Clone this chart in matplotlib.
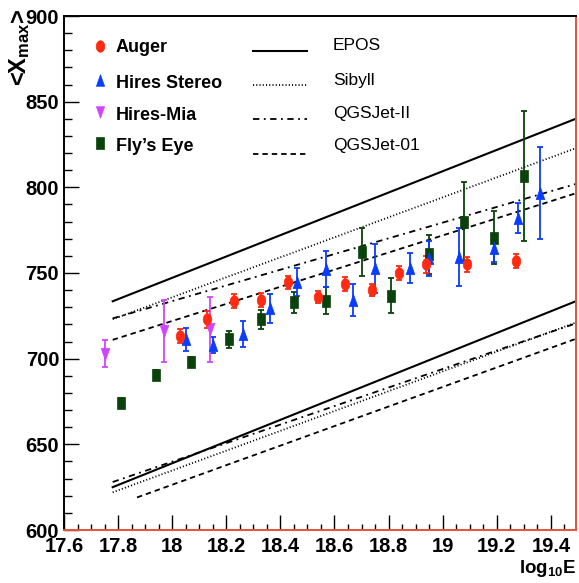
import matplotlib
matplotlib.use("Agg")
import matplotlib.pyplot as plt
from matplotlib.ticker import MultipleLocator
import numpy as np

# ---------------- data ----------------
auger_x = [18.03, 18.13, 18.23, 18.33, 18.43, 18.54, 18.64, 18.74, 18.84, 18.94, 19.09, 19.27]
auger_y = [713.2, 723.1, 733.5, 734.2, 744.5, 735.8, 743.6, 740.0, 749.8, 755.0, 755.0, 757.2]
auger_e = [4, 5, 4, 4, 4, 3.5, 4, 3.5, 4, 5, 4.5, 4]

stereo_x = [18.05, 18.15, 18.26, 18.36, 18.46, 18.57, 18.67, 18.75, 18.88, 18.95, 19.06, 19.19, 19.28, 19.36]
stereo_y = [711.3, 708.0, 714.4, 729.4, 744.9, 752.2, 734.2, 752.7, 752.7, 758.5, 759.5, 764.5, 782.0, 796.5]
stereo_e = [6.8, 4.5, 7.8, 8.6, 8.3, 10.4, 9.4, 14.5, 8.7, 10.2, 16.8, 7.8, 8.6, 26.8]

mia_x = [17.75, 17.97, 18.14]
mia_y = [703.0, 716.1, 717.1]
mia_e = [7.8, 18.3, 19.0]

fly_x = [17.81, 17.94, 18.07, 18.21, 18.33, 18.45, 18.57, 18.70, 18.81, 18.95, 19.08, 19.19, 19.30]
fly_y = [674.0, 690.5, 698.2, 711.3, 723.0, 732.9, 733.8, 762.4, 736.8, 760.9, 780.0, 770.6, 806.8]
fly_e = [3, 3, 3, 5, 5.4, 6, 7.8, 14, 10.2, 11.4, 23, 15.4, 38]

model_names = ["EPOS", "Sibyll", "QGSJet-II", "QGSJet-01"]
model_x_start = [17.78, 17.78, 17.78, 17.78]
model_x_start_fe = [17.78, 17.78, 17.78, 17.87]
model_x_end = [19.5, 19.5, 19.5, 19.5]
model_p_start = [733.5, 723.0, 723.5, 711.0]
model_p_end = [840.5, 823.3, 802.3, 796.9]
model_fe_start = [625.0, 622.0, 628.0, 619.0]
model_fe_end = [734.0, 721.5, 721.0, 712.0]

data_names = ["Auger", "Hires Stereo", "Hires-Mia", "Fly\u2019s Eye"]

# ---------------- style ----------------
W, H = 579, 583
DPI = 100
fig = plt.figure(figsize=(W / DPI, H / DPI), dpi=DPI)
L, R, T, B = 64, 576, 16, 530
ax = fig.add_axes([L / W, 1 - B / H, (R - L) / W, (B - T) / H])

FONT = ["Liberation Sans", "DejaVu Sans"]
plt.rcParams["mathtext.fontset"] = "custom"
plt.rcParams["mathtext.rm"] = "Liberation Sans:bold"
plt.rcParams["mathtext.bf"] = "Liberation Sans:bold"
plt.rcParams["mathtext.it"] = "Liberation Sans:bold"

c_red = "#ff2a10"
c_blue = "#0a3cff"
c_mag = "#d044ff"
c_green = "#0b420b"

# vertically elongated markers (as in the reference)
_t = np.linspace(0, 2 * np.pi, 41)
m_circle = list(zip(0.74 * np.cos(_t), np.sin(_t)))
m_square = [(-0.71, -1), (0.71, -1), (0.71, 1), (-0.71, 1), (-0.71, -1)]
m_up = [(0, 1), (-0.71, -1), (0.71, -1), (0, 1)]
m_down = [(0, -1), (-0.71, 1), (0.71, 1), (0, -1)]

styles = [
    dict(ls="-", lw=1.5),
    dict(ls=(0, (0.6, 1.2)), lw=1.3),
    dict(ls=(0, (3.5, 2.5, 1.0, 2.5)), lw=1.3),
    dict(ls=(0, (3.0, 2.2)), lw=1.3),
]

for i in range(4):
    ax.plot([model_x_start[i], model_x_end[i]], [model_p_start[i], model_p_end[i]],
            color="black", **styles[i])
    ax.plot([model_x_start_fe[i], model_x_end[i]], [model_fe_start[i], model_fe_end[i]],
            color="black", **styles[i])

def draw(x, y, e, color, marker, ms):
    ax.errorbar(x, y, yerr=e, fmt="none", ecolor=color, elinewidth=1.3,
                capsize=2.0, capthick=1.3, zorder=3)
    ax.plot(x, y, ls="none", marker=marker, ms=ms, color=color, mec=color, mew=0.5, zorder=4)

draw(fly_x, fly_y, fly_e, c_green, m_square, 8.3)
draw(stereo_x, stereo_y, stereo_e, c_blue, m_up, 8.8)
draw(mia_x, mia_y, mia_e, c_mag, m_down, 8.8)
draw(auger_x, auger_y, auger_e, c_red, m_circle, 8.3)

ax.set_xlim(17.6, 19.493)
ax.set_ylim(600, 900)

ax.xaxis.set_major_locator(MultipleLocator(0.2))
ax.xaxis.set_minor_locator(MultipleLocator(0.05))
ax.yaxis.set_major_locator(MultipleLocator(50))
ax.yaxis.set_minor_locator(MultipleLocator(10))
ax.tick_params(which="both", direction="in", top=False, right=False, color="black", width=1)
ax.tick_params(which="major", axis="x", length=10.8, pad=5.0)
ax.tick_params(which="minor", axis="x", length=4.3)
ax.tick_params(which="major", axis="y", length=10.8, pad=3.5)
ax.tick_params(which="minor", axis="y", length=5.8)

def fmt(v):
    return ("%.1f" % v).rstrip("0").rstrip(".")
xt = [17.6 + 0.2 * k for k in range(10)]
ax.set_xticks(xt)
ax.set_xticklabels([fmt(v) for v in xt])
for lab in ax.get_xticklabels() + ax.get_yticklabels():
    lab.set_family(FONT)
    lab.set_fontweight("bold")
    lab.set_fontsize(14.5)

ax.spines["left"].set_color("black")
ax.spines["top"].set_color("black")
ax.spines["right"].set_color("#e8503a")
ax.spines["bottom"].set_color("#e8503a")
for s in ax.spines.values():
    s.set_linewidth(1.4)

# ---------------- legend (manual) ----------------
def ax_xy(px, py):
    return (px - L) / (R - L), (B - py) / (B - T)

leg_markers = [(m_circle, c_red, 46, 51.7), (m_up, c_blue, 80, 88.3),
               (m_down, c_mag, 112, 120), (m_square, c_green, 143, 150.7)]
for (m, c, ym, yb), name in zip(leg_markers, data_names):
    mx, my = ax_xy(100, ym)
    ax.plot([mx], [my], marker=m, color=c, ms=8.3, mew=0.5, transform=ax.transAxes, clip_on=False)
    tx, ty = ax_xy(116, yb)
    ax.text(tx, ty, name, transform=ax.transAxes, ha="left", va="baseline",
            fontsize=13, fontweight="bold", family=FONT)

line_rows = [(51, 50), (85, 85), (119, 118), (154, 150)]
for i, ((yl, yb), name) in enumerate(zip(line_rows, model_names)):
    x0, y0 = ax_xy(253, yl)
    x1, _ = ax_xy(307, yl)
    ax.plot([x0, x1], [y0, y0], color="black", transform=ax.transAxes, **styles[i])
    tx, ty = ax_xy(333, yb)
    ax.text(tx, ty, name, transform=ax.transAxes, ha="left", va="baseline",
            fontsize=12.5, family=FONT)

# axis titles
fig.text(20 / W, 1 - 9 / H, r"<X$_{\mathbf{max}}$>", rotation=90, ha="center", va="top",
         fontsize=17, fontweight="bold", family=FONT)
fig.text(576 / W, 1 - 573 / H, r"log$_{\mathbf{10}}$E", ha="right", va="baseline",
         fontsize=13.5, fontweight="bold", family=FONT)

fig.savefig("out.png", dpi=DPI)
